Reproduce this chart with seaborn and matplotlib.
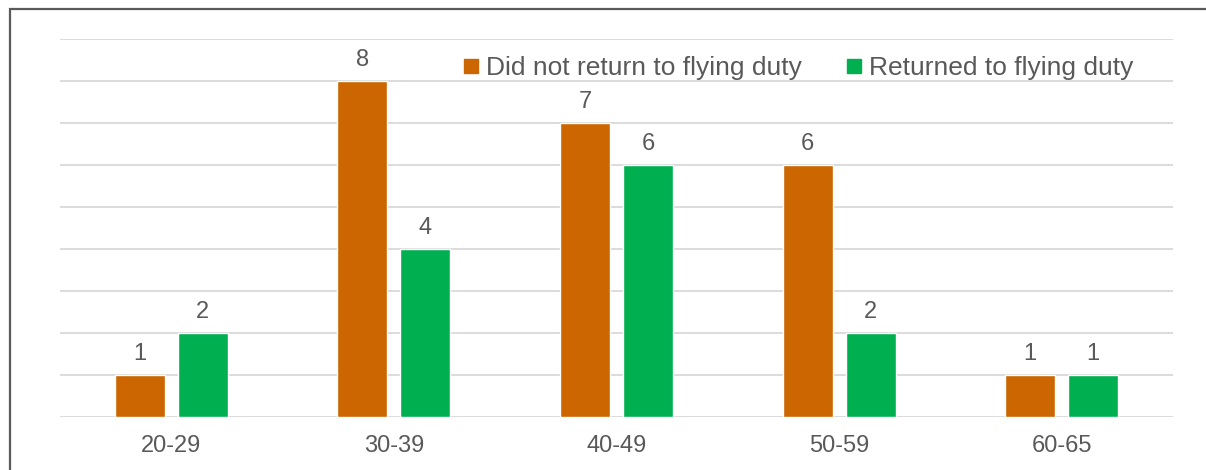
import numpy as np
import pandas as pd
import matplotlib
matplotlib.use('Agg')
import matplotlib.pyplot as plt
import matplotlib.patches as mpatches
from matplotlib.lines import Line2D
import seaborn as sns

# ========================
# DATA
# ========================
age_groups = ["20-29", "30-39", "40-49", "50-59", "60-65"]
did_not_return = [1, 8, 7, 6, 1]
returned = [2, 4, 6, 2, 1]
series_names = ["Did not return to flying duty", "Returned to flying duty"]
series_colors = ["#CC6600", "#00B050"]

TEXT_COLOR = "#595959"
GRID_COLOR = "#D9D9D9"

df = pd.DataFrame({
    "age": age_groups * 2,
    "count": did_not_return + returned,
    "series": [series_names[0]] * len(age_groups) + [series_names[1]] * len(age_groups),
})

sns.set_style("white")
plt.rcParams['font.family'] = ['Liberation Sans', 'DejaVu Sans']

fig = plt.figure(figsize=(12.06, 4.70), dpi=100)
ax = fig.add_axes([60 / 1206, 1 - 417 / 470, (1173 - 60) / 1206, (417 - 39) / 470])

sns.barplot(data=df, x="age", y="count", hue="series", order=age_groups,
            hue_order=series_names, palette=series_colors,
            width=0.566, gap=0.206, saturation=1, legend=False, ax=ax)

for container in ax.containers:
    ax.bar_label(container, padding=7, fontsize=17, color=TEXT_COLOR)

ax.set_ylim(0, 9)
ax.set_xlim(-0.5, len(age_groups) - 0.5)
ax.set_yticks(np.arange(0, 10, 1))
ax.set_yticklabels([])
ax.yaxis.grid(True, color=GRID_COLOR, linewidth=1.3)
ax.set_axisbelow(True)
ax.tick_params(axis='x', length=0, pad=13, labelsize=17, labelcolor=TEXT_COLOR)
ax.tick_params(axis='y', length=0)
ax.set_xlabel("")
ax.set_ylabel("")
for side in ax.spines:
    ax.spines[side].set_visible(False)

handles = [Line2D([0], [0], marker='s', linestyle='none', markersize=9.5,
                  markerfacecolor=c, markeredgecolor=c) for c in series_colors]
ax.legend(handles, series_names, loc='center', bbox_to_anchor=(0.662, 0.923),
          ncol=2, frameon=False, fontsize=19, labelcolor=TEXT_COLOR,
          handletextpad=0.15, columnspacing=1.6, handlelength=0.8)

# outer frame (cropped on the right and bottom)
frame = mpatches.Rectangle((9.5 / 1206, -0.1), 1.2, 1.1 - 9.5 / 470,
                           transform=fig.transFigure, fill=False,
                           edgecolor="#5A5A5A", linewidth=1.6, clip_on=False)
fig.patches.append(frame)

fig.savefig("out.png", dpi=100)
plt.close(fig)
